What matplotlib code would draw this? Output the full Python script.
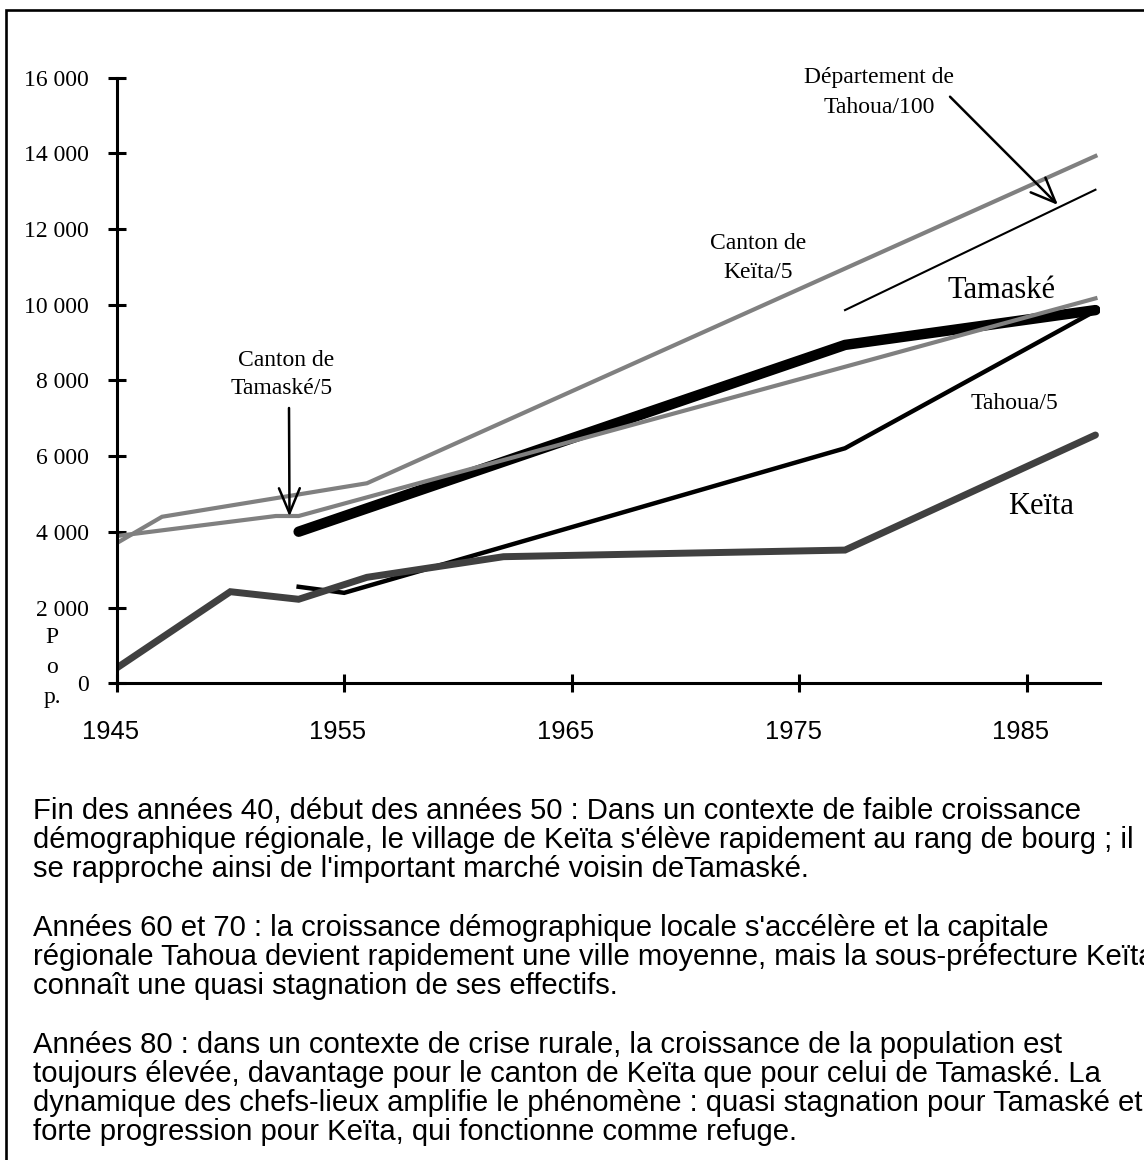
import matplotlib
matplotlib.use('Agg')
import matplotlib.pyplot as plt
from matplotlib.patches import Rectangle
from matplotlib.transforms import ScaledTranslation

W, H = 1144, 1160
SERIF = 'Liberation Serif'
SANS = 'Liberation Sans'

# population series (town figures, cantons /5, department /100)
keita_years = [1945, 1950, 1953, 1956, 1962, 1977, 1988]
keita_pop = [400, 2420, 2220, 2800, 3345, 3520, 6560]

tamaske_years = [1953, 1977, 1988]
tamaske_pop = [4005, 8940, 9860]

tahoua_years = [1953, 1955, 1977, 1988]
tahoua_pop = [2550, 2390, 6210, 9840]

canton_keita_years = [1945, 1947, 1956, 1988]
canton_keita_pop = [3700, 4400, 5285, 13930]

canton_tamaske_years = [1945, 1952, 1953, 1988]
canton_tamaske_pop = [3890, 4420, 4420, 10170]

dept_years = [1977, 1988]
dept_pop = [9860, 13040]

x_ticks = [1945, 1955, 1965, 1975, 1985]
y_ticks = [0, 2000, 4000, 6000, 8000, 10000, 12000, 14000, 16000]
y_labels = ['0', '2 000', '4 000', '6 000', '8 000', '10 000', '12 000', '14 000', '16 000']

para1 = ["Fin des années 40, début des années 50 : Dans un contexte de faible croissance",
         "démographique régionale, le village de Keïta s'élève rapidement au rang de bourg ; il",
         "se rapproche ainsi de l'important marché voisin deTamaské."]
para2 = ["Années 60 et 70 : la croissance démographique locale s'accélère et la capitale",
         "régionale Tahoua devient rapidement une ville moyenne, mais la sous-préfecture Keïta",
         "connaît une quasi stagnation de ses effectifs."]
para3 = ["Années 80 : dans un contexte de crise rurale, la croissance de la population est",
         "toujours élevée, davantage pour le canton de Keïta que pour celui de Tamaské. La",
         "dynamique des chefs-lieux amplifie le phénomène : quasi stagnation pour Tamaské et",
         "forte progression pour Keïta, qui fonctionne comme refuge."]


def px(x, y):
    # pixel position measured from top-left -> figure fraction
    return x / W, 1 - y / H


fig = plt.figure(figsize=(W / 100, H / 100), dpi=100)

# frame around the whole thing (runs off the right and bottom edges)
fig.add_artist(Rectangle((6 / W, -0.5), 2, 1.5 - 10 / H, transform=fig.transFigure,
                         fill=False, lw=1.9, ec='black'))

ax = fig.add_axes([116.5 / W, 1 - 683.3 / H, 983.5 / W, 605.6 / H])
ax.set_xlim(1945, 1988.2)
ax.set_ylim(0, 16000)

ax.plot(tahoua_years, tahoua_pop, color='black', lw=3.2, solid_joinstyle='miter')
ax.plot(keita_years, keita_pop, color='#404040', lw=5, solid_capstyle='round', solid_joinstyle='miter')
ax.plot(tamaske_years, tamaske_pop, color='black', lw=7.5, solid_capstyle='round')
ax.plot(dept_years, dept_pop, color='black', lw=1.5)
ax.plot(canton_keita_years, canton_keita_pop, color='#808080', lw=3, solid_joinstyle='miter')
ax.plot(canton_tamaske_years, canton_tamaske_pop, color='#808080', lw=3, solid_joinstyle='miter')

for s in ['top', 'right']:
    ax.spines[s].set_visible(False)
for s in ['left', 'bottom']:
    ax.spines[s].set_linewidth(2.2)

ax.set_xticks(x_ticks)
ax.set_xticklabels([str(t) for t in x_ticks], fontsize=18.4, family=SANS)
ax.set_yticks(y_ticks)
ax.set_yticklabels(y_labels, fontsize=17, family=SERIF)
ax.tick_params(direction='inout', length=13, width=2.2, color='black')
ax.tick_params(axis='x', pad=20)
ax.tick_params(axis='y', pad=13.5)
for lab in ax.get_xticklabels():
    lab.set_transform(lab.get_transform() + ScaledTranslation(-6.5 / 100, 0, fig.dpi_scale_trans))

# y label, one letter per line
for ch, yb in zip(['P', 'o', 'p.'], [643, 673, 703]):
    fig.text(*px(52, yb), ch, ha='center', va='baseline', fontsize=17, family=SERIF)

# series labels
labels = [("Département de", 879, 83.3, 17), ("Tahoua/100", 879, 113.3, 17),
          ("Canton de", 758, 249.3, 17), ("Keïta/5", 758, 278.3, 17),
          ("Tahoua/5", 1014, 409, 17),
          ("Canton de", 286, 366, 17), ("Tamaské/5", 282, 394, 17),
          ("Tamaské", 1001, 298.3, 22), ("Keïta", 1041, 514.3, 22)]
for txt, x, y, fs in labels:
    fig.text(*px(x, y), txt, ha='center', va='baseline', fontsize=fs, family=SERIF)

arrow = dict(arrowstyle='->,head_length=1.8,head_width=0.75', lw=1.8, color='black',
             shrinkA=0, shrinkB=0, mutation_scale=10, joinstyle='miter')
ax.annotate('', xy=(1058, H - 205), xytext=(950, H - 96.7), xycoords='figure pixels',
            textcoords='figure pixels', arrowprops=arrow)
ax.annotate('', xy=(289.5, H - 516.5), xytext=(289, H - 408), xycoords='figure pixels',
            textcoords='figure pixels', arrowprops=arrow)

# commentary below the chart
rows = para1 + [''] + para2 + [''] + para3
for i, line in enumerate(rows):
    if line:
        fig.text(*px(33, 819 + i * 29.2), line, ha='left', va='baseline',
                 fontsize=21.1, family=SANS)

fig.savefig('out.png', dpi=100)
